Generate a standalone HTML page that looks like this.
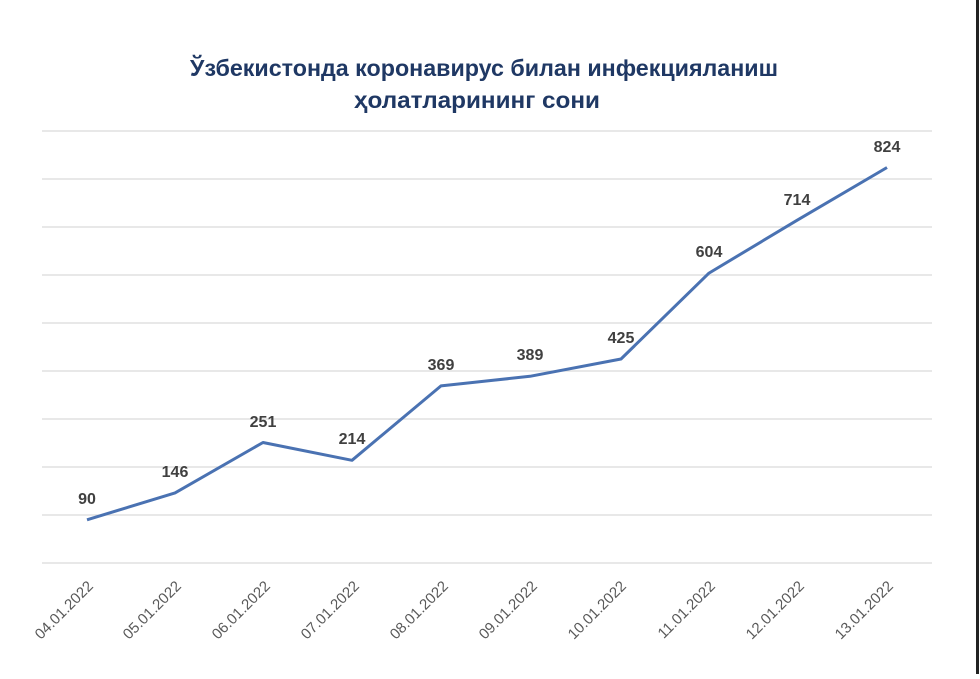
<!DOCTYPE html>
<html><head><meta charset="utf-8"><style>
body{margin:0;background:#fff;width:980px;height:674px;overflow:hidden}
</style></head><body>
<svg width="980" height="674" xmlns="http://www.w3.org/2000/svg" font-family="Liberation Sans, DejaVu Sans, sans-serif">
<rect width="980" height="674" fill="#fff"/>
<line x1="977.5" y1="0" x2="977.5" y2="674" stroke="#222" stroke-width="3"/>
<text x="484" y="76" text-anchor="middle" font-size="23" font-weight="bold" fill="#1f3864" textLength="588" lengthAdjust="spacingAndGlyphs">Ўзбекистонда коронавирус билан инфекцияланиш</text>
<text x="477" y="108" text-anchor="middle" font-size="23" font-weight="bold" fill="#1f3864" textLength="246" lengthAdjust="spacingAndGlyphs">ҳолатларининг сони</text>
<g stroke="#d9d9d9" stroke-width="1.3">
<line x1="42" x2="932" y1="131" y2="131"/><line x1="42" x2="932" y1="179" y2="179"/>
<line x1="42" x2="932" y1="227" y2="227"/><line x1="42" x2="932" y1="275" y2="275"/>
<line x1="42" x2="932" y1="323" y2="323"/><line x1="42" x2="932" y1="371" y2="371"/>
<line x1="42" x2="932" y1="419" y2="419"/><line x1="42" x2="932" y1="467" y2="467"/>
<line x1="42" x2="932" y1="515" y2="515"/><line x1="42" x2="932" y1="563" y2="563"/>
</g>
<polyline fill="none" stroke="#4a72b2" stroke-width="3" stroke-linejoin="round" points="87,519.8 175,492.9 263,442.5 352,460.3 441,385.9 530,376.3 621,359 709,273.1 797,220.3 887,167.5"/>
<g font-size="16" font-weight="bold" fill="#404040" text-anchor="middle">
<text x="87" y="504">90</text><text x="175" y="477">146</text><text x="263" y="427">251</text>
<text x="352" y="444">214</text><text x="441" y="370">369</text><text x="530" y="360">389</text>
<text x="621" y="343">425</text><text x="709" y="257">604</text><text x="797" y="205">714</text>
<text x="887" y="152">824</text>
</g>
<g font-size="15" fill="#595959" text-anchor="end">
<text transform="translate(94,587) rotate(-45)">04.01.2022</text>
<text transform="translate(182,587) rotate(-45)">05.01.2022</text>
<text transform="translate(271,587) rotate(-45)">06.01.2022</text>
<text transform="translate(360,587) rotate(-45)">07.01.2022</text>
<text transform="translate(449,587) rotate(-45)">08.01.2022</text>
<text transform="translate(538,587) rotate(-45)">09.01.2022</text>
<text transform="translate(627,587) rotate(-45)">10.01.2022</text>
<text transform="translate(716,587) rotate(-45)">11.01.2022</text>
<text transform="translate(805,587) rotate(-45)">12.01.2022</text>
<text transform="translate(894,587) rotate(-45)">13.01.2022</text>
</g>
</svg>
</body></html>
